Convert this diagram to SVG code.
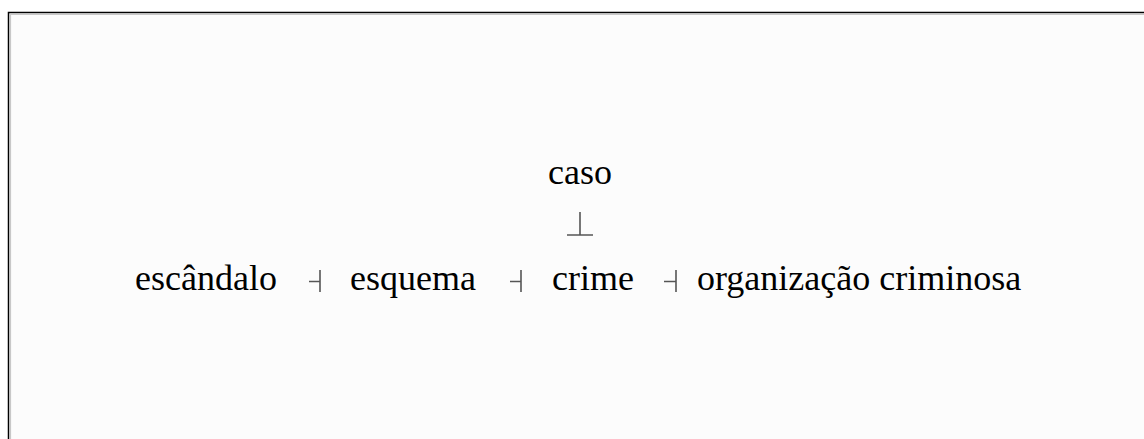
<svg xmlns="http://www.w3.org/2000/svg" width="1144" height="439" viewBox="0 0 1144 439">
  <style>
    .t { font-family: "Liberation Serif", "Times New Roman", serif; font-size: 36px; fill: #000; }
    .c { stroke: #555; stroke-width: 1.6; fill: none; }
  </style>
  <rect x="0" y="0" width="1144" height="439" fill="#ffffff"/>
  <g id="frame">
    <rect x="8.5" y="12.5" width="1160" height="450" fill="#fcfcfc" stroke="#000" stroke-width="1.5"/>
    <path d="M10.5 470 V14.5 H1160" stroke="#c8c8c8" stroke-width="1.2" fill="none"/>
  </g>
  <g id="node-caso"><text class="t" x="580" y="184" text-anchor="middle">caso</text></g>
  <g id="node-escandalo"><text class="t" x="135" y="290">escândalo</text></g>
  <g id="node-esquema"><text class="t" x="350" y="290">esquema</text></g>
  <g id="node-crime"><text class="t" x="552" y="290">crime</text></g>
  <g id="node-organizacao"><text class="t" x="697" y="290">organização criminosa</text></g>
  <g id="connectors">
    <path class="c" d="M580 212 V235 M567 235 H593"/>
    <path class="c" d="M309 281.5 H320 M320 270 V292"/>
    <path class="c" d="M510 281.5 H521 M521 270 V292"/>
    <path class="c" d="M664 281.5 H676 M676 270 V292"/>
  </g>
</svg>
